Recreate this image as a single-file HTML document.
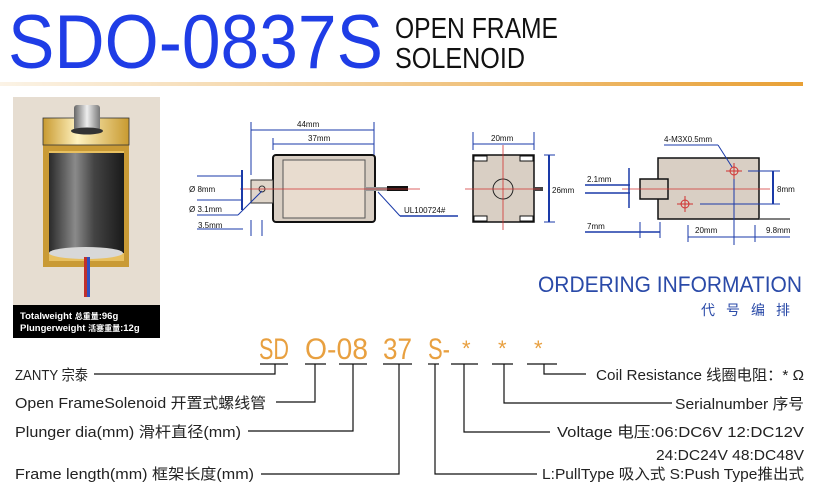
<!DOCTYPE html>
<html><head><meta charset="utf-8"><style>
html,body{margin:0;padding:0;background:#fff;}
svg{display:block;}
</style></head><body>
<svg width="817" height="485" viewBox="0 0 817 485" xmlns="http://www.w3.org/2000/svg" font-family="Liberation Sans, Noto Sans CJK SC, sans-serif">
<defs>
<linearGradient id="hl" x1="0" x2="1"><stop offset="0" stop-color="#fbf3e6"/><stop offset="1" stop-color="#e8a035"/></linearGradient>
<linearGradient id="cyl" x1="0" x2="1"><stop offset="0" stop-color="#2a2a2a"/><stop offset="0.35" stop-color="#8a8a8a"/><stop offset="0.6" stop-color="#444"/><stop offset="1" stop-color="#1a1a1a"/></linearGradient>
<linearGradient id="gold" x1="0" x2="1"><stop offset="0" stop-color="#c89a30"/><stop offset="0.4" stop-color="#fff2c0"/><stop offset="1" stop-color="#c89a30"/></linearGradient>
<linearGradient id="cap" x1="0" x2="1"><stop offset="0" stop-color="#666"/><stop offset="0.5" stop-color="#eee"/><stop offset="1" stop-color="#777"/></linearGradient>
</defs>
<!-- Title -->
<text x="8" y="68" font-size="76" fill="#1f3de6" textLength="375" lengthAdjust="spacingAndGlyphs">SDO-0837S</text>
<text x="395" y="38" font-size="29" fill="#111" textLength="163" lengthAdjust="spacingAndGlyphs">OPEN FRAME</text>
<text x="395" y="68" font-size="29" fill="#111" textLength="130" lengthAdjust="spacingAndGlyphs">SOLENOID</text>
<rect x="0" y="82" width="803" height="4" fill="url(#hl)"/>
<!-- Photo -->
<rect x="13" y="97" width="147" height="241" fill="#e6ddd1"/>
<rect x="43" y="145" width="86" height="122" fill="#c99a35"/>
<rect x="49" y="151" width="75" height="110" fill="#e8c060"/>
<rect x="49" y="153" width="75" height="100" fill="url(#cyl)"/>
<ellipse cx="86" cy="253" rx="37" ry="6" fill="#d8d8d8"/>
<rect x="43" y="118" width="86" height="27" fill="url(#gold)"/>
<rect x="43" y="118" width="86" height="27" fill="none" stroke="#333" stroke-width="0.8"/>
<rect x="74" y="105" width="26" height="26" rx="3" fill="url(#cap)"/>
<ellipse cx="87" cy="131" rx="16" ry="3.5" fill="#333"/>
<rect x="84" y="257" width="3" height="40" fill="#c0302c"/><rect x="87" y="257" width="3" height="40" fill="#3050c0"/>
<rect x="13" y="305" width="147" height="33" fill="#000"/>
<text x="20" y="319" font-size="9.5" font-weight="bold" fill="#fff">Totalweight <tspan font-size="8">总重量</tspan>:96g</text>
<text x="20" y="331" font-size="9.5" font-weight="bold" fill="#fff">Plungerweight <tspan font-size="8">活塞重量</tspan>:12g</text>
<!-- Drawing 1 -->
<g font-size="8" fill="#111">
<rect x="273" y="155" width="102" height="67" rx="3" fill="#d9cfc4" stroke="#111" stroke-width="2"/>
<rect x="283" y="160" width="82" height="58" fill="#e8dccf" stroke="#555"/>
<rect x="251" y="180" width="22" height="23" fill="#e0d6ca" stroke="#333"/>
<circle cx="262" cy="189" r="3" fill="none" stroke="#333"/>
<rect x="365" y="187" width="22" height="4" fill="#999"/><rect x="387" y="186" width="21" height="5" fill="#111"/>
<line x1="240" y1="189" x2="420" y2="189" stroke="#d03030" stroke-width="0.8"/>
<g stroke="#1a3aa8" stroke-width="1" fill="none">
<line x1="251" y1="122" x2="251" y2="175"/><line x1="374" y1="122" x2="374" y2="155"/>
<line x1="251" y1="130" x2="374" y2="130"/>
<line x1="273" y1="138" x2="273" y2="150"/><line x1="273" y1="144" x2="374" y2="144"/>
<line x1="242" y1="170" x2="242" y2="210" stroke-width="2"/>
<line x1="197" y1="176" x2="242" y2="176"/><line x1="197" y1="200" x2="242" y2="200"/>
<line x1="197" y1="215" x2="238" y2="215"/><line x1="238" y1="215" x2="262" y2="191"/>
<line x1="197" y1="229" x2="243" y2="229"/><line x1="251" y1="220" x2="251" y2="236"/><line x1="262" y1="220" x2="262" y2="236"/>
<line x1="378" y1="192" x2="400" y2="216"/><line x1="400" y1="216" x2="458" y2="216" stroke-width="1.5"/>
</g>
<text x="297" y="127">44mm</text><text x="308" y="141">37mm</text>
<text x="189" y="192">Ø 8mm</text><text x="189" y="212">Ø 3.1mm</text><text x="198" y="228">3.5mm</text>
<text x="404" y="213">UL100724#</text>
<!-- Drawing 2 -->
<rect x="473" y="155" width="61" height="67" fill="#d9cfc4" stroke="#111" stroke-width="1.5"/>
<rect x="474" y="156" width="13" height="5" fill="#fff" stroke="#111"/><rect x="520" y="156" width="13" height="5" fill="#fff" stroke="#111"/>
<rect x="474" y="216" width="13" height="5" fill="#fff" stroke="#111"/><rect x="520" y="216" width="13" height="5" fill="#fff" stroke="#111"/>
<circle cx="503" cy="189" r="10" fill="none" stroke="#222"/>
<rect x="534" y="187" width="9" height="4" fill="#444"/>
<line x1="465" y1="189" x2="540" y2="189" stroke="#d03030" stroke-width="0.8"/><line x1="503" y1="145" x2="503" y2="230" stroke="#d03030" stroke-width="0.8"/>
<g stroke="#1a3aa8" fill="none"><line x1="473" y1="132" x2="473" y2="150"/><line x1="534" y1="132" x2="534" y2="150"/><line x1="473" y1="144" x2="534" y2="144"/>
<line x1="549" y1="155" x2="549" y2="222" stroke-width="2"/><line x1="544" y1="155" x2="555" y2="155"/><line x1="544" y1="222" x2="555" y2="222"/></g>
<text x="491" y="141">20mm</text><text x="552" y="193">26mm</text>
<!-- Drawing 3 -->
<rect x="658" y="158" width="101" height="61" fill="#d9cfc4" stroke="#111" stroke-width="1.5"/>
<rect x="640" y="179" width="28" height="20" fill="#d9cfc4" stroke="#111" stroke-width="1.5"/>
<line x1="759" y1="219" x2="790" y2="219" stroke="#555" stroke-width="1.5"/>
<line x1="622" y1="189" x2="770" y2="189" stroke="#d03030" stroke-width="0.8"/>
<g stroke="#d03030" fill="none"><circle cx="734" cy="171" r="4"/><line x1="726" y1="171" x2="742" y2="171"/><line x1="734" y1="163" x2="734" y2="179"/>
<circle cx="685" cy="204" r="4"/><line x1="677" y1="204" x2="693" y2="204"/><line x1="685" y1="196" x2="685" y2="212"/></g>
<g stroke="#1a3aa8" fill="none">
<line x1="664" y1="145" x2="718" y2="145"/><line x1="718" y1="145" x2="732" y2="167"/>
<line x1="585" y1="185" x2="630" y2="185" stroke-width="1.5"/><line x1="585" y1="193" x2="630" y2="193" stroke-width="1.5"/><line x1="629" y1="168" x2="629" y2="208" stroke-width="1.5"/>
<line x1="748" y1="171" x2="780" y2="171"/><line x1="700" y1="204" x2="780" y2="204"/><line x1="773" y1="171" x2="773" y2="204" stroke-width="2"/>
<line x1="585" y1="232" x2="660" y2="232" stroke-width="1.5"/><line x1="640" y1="222" x2="640" y2="238"/><line x1="660" y1="222" x2="660" y2="238"/>
<line x1="688" y1="237" x2="790" y2="237"/><line x1="688" y1="225" x2="688" y2="242"/><line x1="734" y1="179" x2="734" y2="245"/><line x1="755" y1="225" x2="755" y2="242"/>
</g>
<text x="664" y="142">4-M3X0.5mm</text><text x="587" y="182">2.1mm</text><text x="777" y="192">8mm</text>
<text x="587" y="229">7mm</text><text x="695" y="233">20mm</text><text x="766" y="233">9.8mm</text>
</g>
<!-- Ordering -->
<text x="538" y="292" font-size="22" fill="#2a4aa8" textLength="264" lengthAdjust="spacingAndGlyphs">ORDERING INFORMATION</text>
<text x="701" y="315" font-size="14" fill="#2a4aa8" letter-spacing="11">代号编排</text>
<g font-size="30" fill="#e8a040">
<text x="259" y="359" textLength="30" lengthAdjust="spacingAndGlyphs">SD</text>
<text x="305" y="359" textLength="63" lengthAdjust="spacingAndGlyphs">O-08</text>
<text x="383" y="359" textLength="29" lengthAdjust="spacingAndGlyphs">37</text>
<text x="428" y="359" textLength="22" lengthAdjust="spacingAndGlyphs">S-</text>
<text x="462" y="356" font-size="22">*</text><text x="498" y="356" font-size="22">*</text><text x="534" y="356" font-size="22">*</text>
</g>
<g stroke="#111" stroke-width="1.2" fill="none">
<line x1="260" y1="364" x2="288" y2="364"/><line x1="305" y1="364" x2="326" y2="364"/><line x1="339" y1="364" x2="367" y2="364"/><line x1="383" y1="364" x2="412" y2="364"/><line x1="428" y1="364" x2="439" y2="364"/><line x1="451" y1="364" x2="478" y2="364"/><line x1="492" y1="364" x2="513" y2="364"/><line x1="527" y1="364" x2="557" y2="364"/>
<polyline points="94,374 275,374 275,364"/>
<polyline points="276,402 315,402 315,364"/>
<polyline points="248,431 353,431 353,364"/>
<polyline points="261,474 399,474 399,364"/>
<polyline points="544,364 544,374 586,374"/>
<polyline points="504,364 504,403 672,403"/>
<polyline points="464,364 464,432 550,432"/>
<polyline points="435,364 435,474 537,474"/>
</g>
<g font-size="15" fill="#222">
<text x="15" y="380" textLength="73" lengthAdjust="spacingAndGlyphs">ZANTY 宗泰</text>
<text x="15" y="408" textLength="251" lengthAdjust="spacingAndGlyphs">Open FrameSolenoid  开置式螺线管</text>
<text x="15" y="437" textLength="226" lengthAdjust="spacingAndGlyphs">Plunger dia(mm) 滑杆直径(mm)</text>
<text x="15" y="479" textLength="239" lengthAdjust="spacingAndGlyphs">Frame length(mm) 框架长度(mm)</text>
<text x="596" y="380" textLength="208" lengthAdjust="spacingAndGlyphs">Coil Resistance 线圈电阻：* Ω</text>
<text x="675" y="409" textLength="129" lengthAdjust="spacingAndGlyphs">Serialnumber 序号</text>
<text x="557" y="437" textLength="247" lengthAdjust="spacingAndGlyphs">Voltage 电压:06:DC6V   12:DC12V</text>
<text x="656" y="460" textLength="148" lengthAdjust="spacingAndGlyphs">24:DC24V 48:DC48V</text>
<text x="542" y="479" textLength="262" lengthAdjust="spacingAndGlyphs">L:PullType 吸入式  S:Push Type推出式</text>
</g>
</svg>
</body></html>
